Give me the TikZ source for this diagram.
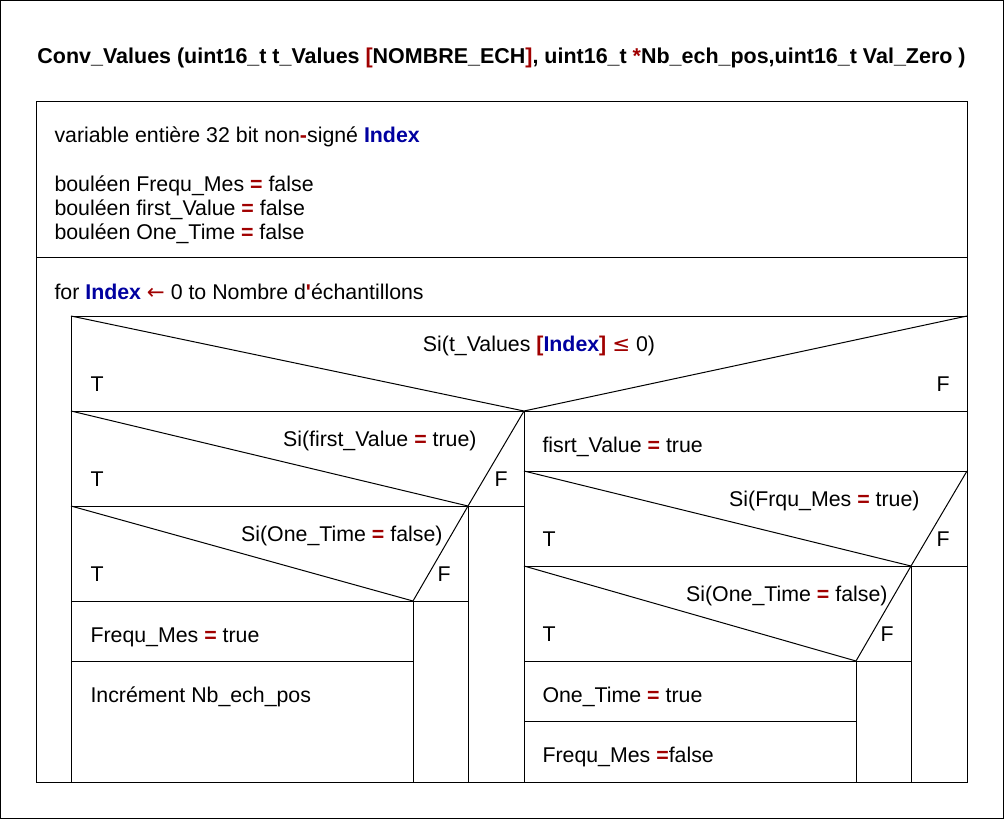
\documentclass[tikz,border=0pt]{standalone}
\usepackage{fontspec}
\setmainfont{Liberation Sans}
\newfontfamily\symfont{DejaVu Sans}
\definecolor{kwred}{RGB}{160,0,0}
\definecolor{kwblue}{RGB}{0,0,160}
\newcommand{\req}{\textcolor{kwred}{\textbf{=}}}
\newcommand{\ridx}{\textcolor{kwblue}{\textbf{Index}}}
\newcommand{\rred}[1]{\textcolor{kwred}{\textbf{#1}}}

\begin{document}
\begin{tikzpicture}[x=0.75pt,y=-0.75pt,line width=0.75pt,
  txt/.style={anchor=base west,inner sep=0pt,font=\fontsize{16}{19}\selectfont},
  rtxt/.style={txt,anchor=base east},
  ctxt/.style={txt,anchor=base}]
\useasboundingbox (0,0) rectangle (1004,819);
\draw (0.5,0.5) rectangle (1003.5,818.5);

% title
\node (title) [txt,font=\fontsize{16.1}{19}\selectfont\bfseries] at (37,63) {Conv\_Values (uint16\_t t\_Values \rred{[}NOMBRE\_ECH\rred{]}, uint16\_t \rred{*}Nb\_ech\_pos,uint16\_t Val\_Zero )};

% declarations
\draw (36,101) rectangle (967,782);
\draw (36,257) -- (967,257);
\node (decl) [txt] at (54,142) {variable entière 32 bit non\rred{-}signé \ridx};
\node (vfreq) [txt] at (54,191) {bouléen Frequ\_Mes \req{} false};
\node (vfirst) [txt] at (54,215) {bouléen first\_Value \req{} false};
\node (vone) [txt] at (54,239) {bouléen One\_Time \req{} false};

% for loop
\node (loop) [txt] at (54,299) {for \ridx{} \textcolor{kwred}{\symfont ←} 0 to Nombre d\rred{\textquotesingle}échantillons};
\draw (71,316) rectangle (967,782);

% Si(t_Values[Index] <= 0)
\draw (71,411) -- (967,411);
\draw (71,316) -- (524,411) -- (967,316);
\draw (524,411) -- (524,782);
\node (c0) [ctxt] at (539,351) {Si(t\_Values \rred{[}\ridx\rred{]} \textcolor{kwred}{\symfont ≤} 0)};
\node (c0t) [txt] at (90,391) {T};
\node (c0f) [txt] at (936,391) {F};

% left: Si(first_Value = true)
\draw (71,506) -- (524,506);
\draw (71,411) -- (468,506) -- (524,411);
\draw (468,506) -- (468,782);
\node (c1) [rtxt] at (477,446) {Si(first\_Value \req{} true)};
\node (c1t) [txt] at (90,486) {T};
\node (c1f) [txt] at (494,486) {F};

% left: Si(One_Time = false)
\draw (71,601) -- (468,601);
\draw (71,506) -- (413,601) -- (468,506);
\draw (413,601) -- (413,782);
\node (c2) [rtxt] at (443,541) {Si(One\_Time \req{} false)};
\node (c2t) [txt] at (90,581) {T};
\node (c2f) [txt] at (437,581) {F};
\draw (71,661) -- (413,661);
\node (s1) [txt] at (90,642) {Frequ\_Mes \req{} true};
\node (s2) [txt] at (90,702) {Incrément Nb\_ech\_pos};

% right branch
\node (s3) [txt] at (542,452) {fisrt\_Value \req{} true};
\draw (524,471) -- (967,471);

% right: Si(Frqu_Mes = true)
\draw (524,566) -- (967,566);
\draw (524,471) -- (911,566) -- (967,471);
\draw (911,566) -- (911,782);
\node (c3) [rtxt] at (920,506) {Si(Frqu\_Mes \req{} true)};
\node (c3t) [txt] at (542,546) {T};
\node (c3f) [txt] at (936,546) {F};

% right: Si(One_Time = false)
\draw (524,661) -- (911,661);
\draw (524,566) -- (856,661) -- (911,566);
\draw (856,661) -- (856,782);
\node (c4) [rtxt] at (888,601) {Si(One\_Time \req{} false)};
\node (c4t) [txt] at (542,641) {T};
\node (c4f) [txt] at (880,641) {F};
\draw (524,721) -- (856,721);
\node (s4) [txt] at (542,702) {One\_Time \req{} true};
\node (s5) [txt] at (542,762) {Frequ\_Mes \req{}false};
\end{tikzpicture}
\end{document}
